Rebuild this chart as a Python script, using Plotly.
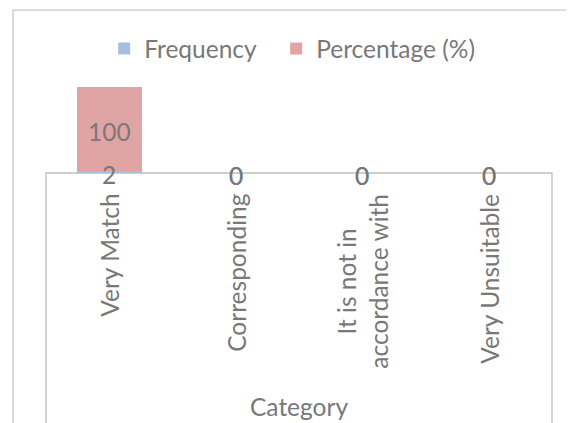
import plotly.graph_objects as go

categories = ["Very Match", "Corresponding", "It is not in<br>accordance with", "Very Unsuitable"]
frequency = [2, 0, 0, 0]
percentage = [100, 0, 0, 0]
series_names = ["Frequency", "Percentage (%)"]
axis_title = "Category"

FONT = "Lato"
FS = 24.5
GRAY = "#787878"
BLUE = "#A6BFDF"
PINK = "#E0A4A4"

fig = go.Figure()
fig.add_trace(go.Bar(x=categories, y=frequency, name=series_names[0], legendwidth=127,
                     marker=dict(color=BLUE, line=dict(width=0))))
fig.add_trace(go.Bar(x=categories, y=percentage, name=series_names[1], legendwidth=175,
                     marker=dict(color=PINK, line=dict(width=0))))

totals = [f + p for f, p in zip(frequency, percentage)]
annotations = []
for c, f, p in zip(categories, frequency, percentage):
    annotations.append(dict(x=c, y=f / 2, xref="x", yref="y", text=str(f), showarrow=False,
                            yanchor="middle", yshift=-2, font=dict(family=FONT, size=FS, color=GRAY)))
    annotations.append(dict(x=c, y=f + p / 2, xref="x", yref="y", text=str(p), showarrow=False,
                            yanchor="middle", yshift=-2, font=dict(family=FONT, size=FS, color=GRAY)))
    annotations.append(dict(x=c, y=0, xref="x", yref="paper", text=c, showarrow=False,
                            textangle=-90, yanchor="top", yshift=-19, align="center",
                            font=dict(family=FONT, size=FS, color=GRAY)))
annotations.append(dict(x=0.5, y=-2.72, xref="paper", yref="paper", text=axis_title,
                        showarrow=False, yanchor="middle",
                        font=dict(family=FONT, size=FS, color=GRAY)))

shapes = [
    dict(type="rect", xref="paper", yref="paper", x0=0, x1=1, y0=0, y1=-3.3,
         line=dict(color="#BFBFBF", width=1.3), layer="below"),
    dict(type="rect", xref="paper", yref="paper", x0=-0.0652, x1=2, y0=-3.5, y1=1.895,
         line=dict(color="#C8C8C8", width=1.3), layer="below"),
]

# the page body adds an 8px offset, so the figure is 8px smaller and shifted
fig.update_layout(
    width=566, height=415,
    margin=dict(l=38, r=22, t=79, b=250),
    barmode="stack", bargap=0.486,
    plot_bgcolor="white", paper_bgcolor="white",
    font=dict(family=FONT, size=FS, color=GRAY),
    showlegend=True,
    legend=dict(orientation="h", traceorder="normal", x=0.115, xanchor="left",
                y=1.447, yanchor="middle",
                font=dict(family=FONT, size=FS, color=GRAY), bgcolor="rgba(0,0,0,0)"),
    xaxis=dict(showticklabels=False, showline=False, showgrid=False, zeroline=False,
               ticks="", fixedrange=True),
    yaxis=dict(range=[0, max(totals)], visible=False, showgrid=False, zeroline=False),
    annotations=annotations,
    shapes=shapes,
)

fig.write_html("out.html")
